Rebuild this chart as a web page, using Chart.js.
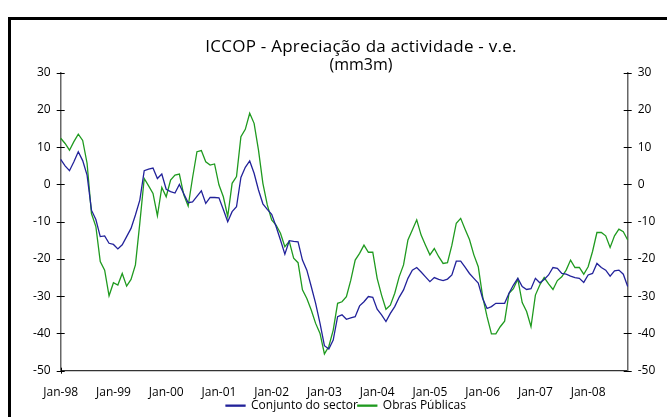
<!DOCTYPE html>
<html>
<head>
<meta charset="utf-8">
<script src="https://cdn.jsdelivr.net/npm/chart.js@4.4.0/dist/chart.umd.min.js"></script>
<style>
  html, body { margin: 0; padding: 0; background: #fff; }
  #wrap { position: relative; width: 667px; height: 417px; overflow: hidden; }
  canvas { position: absolute; left: 0; top: 0; }
  #frame { position: absolute; left: 8px; top: 17px; width: 700px; height: 500px; border: 3px solid #000; }
  #title { position: absolute; left: 161px; top: 37px; width: 400px; text-align: center;
           font-family: 'Open Sans'; color: #000; }
  #title .l1 { font-size: 17px; line-height: 17.5px; letter-spacing: 0.25px; }
  #title .l2 { font-size: 16px; line-height: 18px; }
</style>
</head>
<body>
<div id="wrap">
  <canvas id="chart" width="667" height="417"></canvas>
  <div id="frame"></div>
  <div id="title"><div class="l1">ICCOP - Apreciação da actividade - v.e.</div><div class="l2">(mm3m)</div></div>
</div>
<script>
// monthly series, Jan-98 .. Oct-08
const conjunto = [
  6.7, 5.0, 3.7, 6.1, 8.8, 6.4, 2.5, -6.9, -9.4, -14.0, -13.8, -15.8,
  -16.1, -17.3, -16.2, -14.0, -11.8, -8.2, -4.2, 3.7, 4.1, 4.4, 1.6, 2.8,
  -1.3, -1.9, -2.3, 0.0, -2.5, -4.9, -4.7, -3.2, -1.7, -5.1, -3.5, -3.5,
  -3.6, -6.7, -10.0, -7.3, -6.0, 1.9, 4.6, 6.3, 3.0, -1.5, -5.2, -6.7,
  -8.0, -11.3, -14.9, -18.7, -15.1, -15.3, -15.4, -20.3, -23.0, -27.4, -31.9, -37.3,
  -43.3, -44.2, -41.8, -35.5, -35.0, -36.2, -35.8, -35.5, -32.6, -31.5, -30.1, -30.3,
  -33.5, -35.0, -36.8, -34.6, -32.8, -30.3, -28.3, -25.2, -23.0, -22.3, -23.5, -24.8,
  -26.1, -25.0, -25.5, -25.8, -25.4, -24.3, -20.6, -20.6, -22.2, -23.9, -25.2, -26.5,
  -30.6, -33.3, -32.8, -31.9, -31.9, -31.9, -29.2, -27.0, -25.2, -27.4, -28.2, -28.0,
  -25.2, -26.4, -25.5, -24.3, -22.3, -22.5, -23.9, -24.1, -24.6, -25.0, -25.2, -26.3,
  -24.3, -23.9, -21.2, -22.3, -23.0, -24.6, -23.2, -23.0, -24.1, -27.4
];
const obrasPublicas = [
  12.4, 11.0, 9.2, 11.5, 13.5, 11.8, 5.7, -7.8, -11.3, -20.7, -23.0, -29.9,
  -26.4, -27.0, -23.9, -27.3, -25.5, -21.6, -10.4, 1.6, -0.4, -2.4, -8.4, -0.8,
  -3.3, 1.2, 2.5, 2.8, -2.8, -5.8, 1.8, 8.8, 9.1, 6.1, 5.2, 5.5,
  -0.1, -3.3, -8.6, 0.3, 2.1, 12.8, 14.8, 19.1, 16.4, 9.2, 0.3, -5.5,
  -9.5, -10.9, -13.1, -16.7, -15.3, -19.8, -21.0, -28.3, -30.6, -33.7, -37.3, -40.0,
  -45.5, -43.5, -39.1, -31.9, -31.5, -30.1, -25.7, -20.3, -18.5, -16.3, -18.2, -18.2,
  -25.2, -29.7, -33.5, -32.4, -29.2, -24.8, -21.6, -14.9, -12.2, -9.5, -13.6, -16.3,
  -18.9, -17.2, -19.4, -21.2, -21.0, -16.3, -10.4, -9.1, -12.0, -14.8, -18.9, -22.1,
  -30.1, -35.5, -40.1, -40.1, -38.2, -36.7, -29.2, -28.0, -25.4, -31.7, -34.1, -38.2,
  -29.7, -27.0, -25.0, -26.7, -28.2, -25.8, -24.8, -23.0, -20.3, -22.3, -22.3, -24.1,
  -22.1, -18.0, -12.9, -12.9, -13.8, -16.9, -13.8, -12.0, -12.7, -14.9
];
const monthNames = ['Jan', 'Feb', 'Mar', 'Apr', 'May', 'Jun', 'Jul', 'Aug', 'Sep', 'Oct', 'Nov', 'Dec'];
const firstYear = 1998;
const yMin = -50, yMax = 30, yStep = 10;

const labels = conjunto.map((v, i) => {
  const yy = String((firstYear + Math.floor(i / 12)) % 100).padStart(2, '0');
  return monthNames[i % 12] + '-' + yy;
});

const tickFont = { family: 'Open Sans', size: 12 };

// tick marks that cross the axis lines, like the Excel original
const crossTicks = {
  id: 'crossTicks',
  beforeDatasetsDraw(chart) {
    const ctx = chart.ctx;
    ctx.save();
    ctx.strokeStyle = '#000';
    ctx.lineWidth = 1;
    ['y', 'y2'].forEach(id => {
      const s = chart.scales[id];
      const ax = s.position === 'left' ? s.right : s.left;
      s.ticks.forEach(t => {
        const py = Math.round(s.getPixelForValue(t.value)) + 0.5;
        ctx.beginPath();
        ctx.moveTo(ax - 4, py);
        ctx.lineTo(ax + 4, py);
        ctx.stroke();
      });
    });
    const sx = chart.scales.x;
    sx.ticks.forEach((t, i) => {
      if (i % 12 !== 0) return;
      const px = Math.round(sx.getPixelForTick(i)) + 0.5;
      ctx.beginPath();
      ctx.moveTo(px, sx.top - 3);
      ctx.lineTo(px, sx.top + 3);
      ctx.stroke();
    });
    ctx.restore();
  }
};

const yAxis = (position, width) => ({
  type: 'linear',
  position: position,
  min: yMin,
  max: yMax,
  grid: { display: false, drawTicks: false },
  border: { display: true, color: '#666', width: 1.5 },
  ticks: { stepSize: yStep, padding: 10, color: '#000', font: tickFont },
  afterFit(scale) { scale.width = width; }
});

new Chart(document.getElementById('chart'), {
  type: 'line',
  data: {
    labels: labels,
    datasets: [
      {
        label: 'Conjunto do sector',
        data: conjunto,
        borderColor: '#22229a',
        backgroundColor: '#22229a',
        borderWidth: 1.3,
        pointRadius: 0,
        tension: 0
      },
      {
        label: 'Obras Públicas',
        data: obrasPublicas,
        borderColor: '#1f9a1f',
        backgroundColor: '#1f9a1f',
        borderWidth: 1.3,
        pointRadius: 0,
        tension: 0
      }
    ]
  },
  options: {
    responsive: false,
    animation: false,
    layout: { padding: { left: 25, right: 0, top: 72.7, bottom: 3.3 } },
    plugins: {
      title: { display: false },
      tooltip: { enabled: false },
      legend: {
        position: 'bottom',
        maxHeight: 14,
        labels: { boxWidth: 19, boxHeight: 1, padding: 0, color: '#000', font: tickFont }
      }
    },
    scales: {
      x: {
        type: 'category',
        grid: { display: false, drawTicks: false },
        border: { display: true, color: '#333', width: 1.2 },
        ticks: {
          autoSkip: false,
          maxRotation: 0,
          padding: 14.4,
          color: '#000',
          font: tickFont,
          callback(value, index) {
            return index % 12 === 0 ? this.getLabelForValue(value) : null;
          }
        },
        afterFit(scale) { scale.height = 29; }
      },
      y: yAxis('left', 35.7),
      y2: yAxis('right', 39.3)
    }
  },
  plugins: [crossTicks]
});
</script>
</body>
</html>
